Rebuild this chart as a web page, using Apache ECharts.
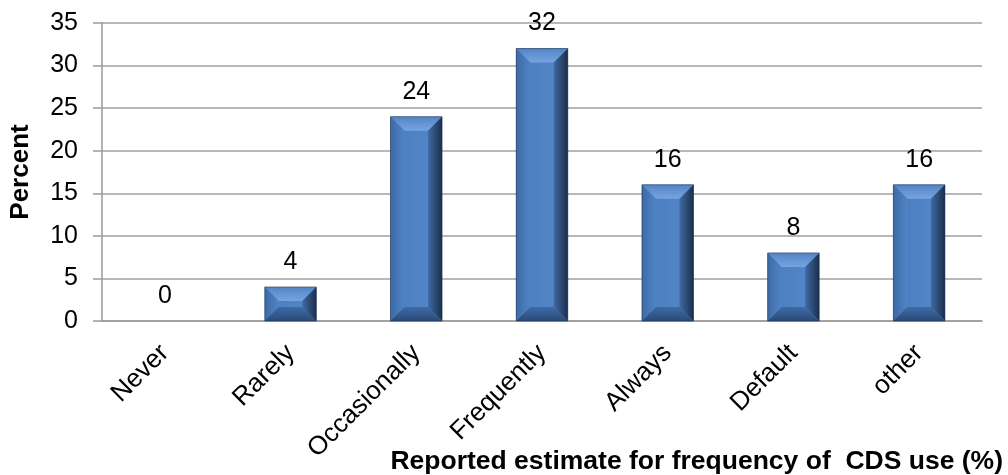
<!DOCTYPE html>
<html>
<head>
<meta charset="utf-8">
<script src="https://cdn.jsdelivr.net/npm/echarts@6/dist/echarts.min.js"></script>
<style>
  html, body { margin: 0; padding: 0; background: #fff; }
  #chart { width: 1008px; height: 475px; }
</style>
</head>
<body>
<div id="chart"></div>
<script>
// Frequency categories and reported percentages
const categories = ['Never', 'Rarely', 'Occasionally', 'Frequently', 'Always', 'Default', 'other'];
const percents = [0, 4, 24, 32, 16, 8, 16];
const yTicks = { min: 0, max: 35, step: 5 };
const yName = 'Percent';
const xName = 'Reported estimate for frequency of  CDS use (%)';

const FONT = '"Liberation Sans", Arial, sans-serif';

function lin(x1, y1, x2, y2, c1, c2) {
  return new echarts.graphic.LinearGradient(x1, y1, x2, y2, [
    { offset: 0, color: c1 }, { offset: 1, color: c2 }
  ]);
}

// Bevelled column: a flat face framed by four shaded edges, plus the value above it
function renderBevelBar(params, api) {
  const idx = api.value(0);
  const val = api.value(1);
  const base = api.coord([idx, 0]);
  const top = api.coord([idx, val]);
  const w = api.size([1, 0])[0] * 0.41;
  const x = base[0] - w / 2;
  const y = top[1];
  const h = base[1] - top[1];
  const children = [];
  if (h > 0.5) {
    const b = Math.min(14, h / 2.4, w / 3);
    children.push(
      { type: 'rect', shape: { x: x, y: y, width: w, height: h },
        style: { fill: lin(0, 0, 1, 0, '#4a7dbd', '#5488cb') } },
      { type: 'polygon', shape: { points: [[x, y], [x + w, y], [x + w - b, y + b], [x + b, y + b]] },
        style: { fill: lin(0, 0, 0, 1, '#5285c6', '#77a4e0') } },
      { type: 'polygon', shape: { points: [[x, y], [x + b, y + b], [x + b, y + h - b], [x, y + h]] },
        style: { fill: lin(0, 0, 1, 0, '#3c6aa6', '#5184c5') } },
      { type: 'polygon', shape: { points: [[x + w, y], [x + w, y + h], [x + w - b, y + h - b], [x + w - b, y + b]] },
        style: { fill: lin(0, 0, 1, 0, '#3f6aa2', '#1b2f4c') } },
      { type: 'polygon', shape: { points: [[x, y + h], [x + w, y + h], [x + w - b, y + h - b], [x + b, y + h - b]] },
        style: { fill: lin(0, 0, 0, 1, '#3e6ba6', '#2a4a77') } },
      { type: 'rect', shape: { x: x, y: y, width: w, height: h },
        style: { fill: 'none', stroke: 'rgba(25,45,75,0.55)', lineWidth: 1 } }
    );
  }
  children.push({
    type: 'text',
    style: {
      text: String(val), x: base[0], y: y - 25,
      textAlign: 'center', textVerticalAlign: 'middle',
      font: '25px ' + FONT, fill: '#000'
    }
  });
  return { type: 'group', children: children };
}

const chart = echarts.init(document.getElementById('chart'), null, { renderer: 'canvas' });
chart.setOption({
  animation: false,
  backgroundColor: '#fff',
  grid: { left: 97, right: 26, top: 23, bottom: 154 },
  xAxis: {
    type: 'category',
    data: categories,
    axisLine: { lineStyle: { color: '#9a9a9a', width: 1.5 } },
    axisTick: { show: false },
    axisLabel: { rotate: 45, margin: 28, fontSize: 26, fontFamily: FONT, color: '#000' }
  },
  yAxis: {
    type: 'value',
    min: yTicks.min, max: yTicks.max, interval: yTicks.step,
    name: yName, nameLocation: 'middle', nameGap: 68,
    nameTextStyle: { fontSize: 26, fontWeight: 'bold', fontFamily: FONT, color: '#000' },
    axisLine: { show: true, lineStyle: { color: '#9a9a9a', width: 1.5 } },
    axisTick: { show: true, length: 9, lineStyle: { color: '#9a9a9a', width: 1.5 } },
    axisLabel: { margin: 24, fontSize: 25, fontFamily: FONT, color: '#000' },
    splitLine: { lineStyle: { color: '#a0a0a0', width: 1.5 } }
  },
  graphic: [{
    type: 'text', right: 5, top: 448,
    style: { text: xName, font: 'bold 26.5px ' + FONT, fill: '#000' }
  }],
  series: [{
    type: 'custom',
    renderItem: renderBevelBar,
    data: percents.map((v, i) => [i, v]),
    encode: { x: 0, y: 1 },
    clip: false
  }]
});
</script>
</body>
</html>
